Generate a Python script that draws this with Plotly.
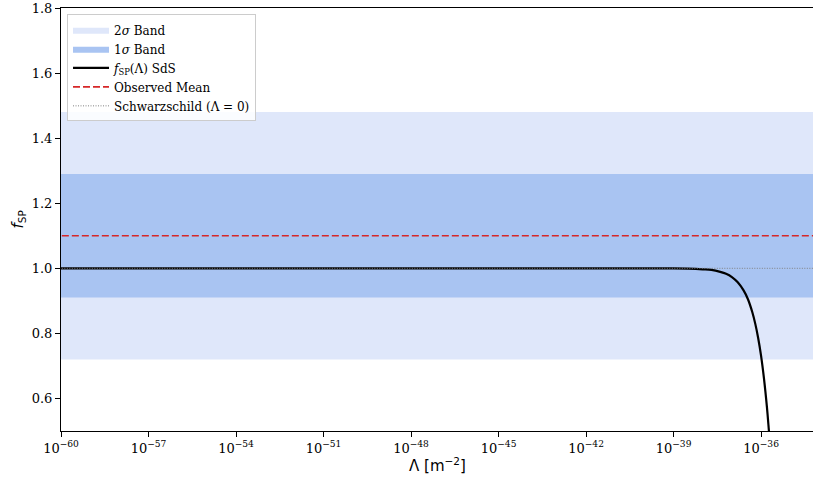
import plotly.graph_objects as go

# ---- data ----
log_lambda = [-60, -50, -42, -40, -39, -38.5, -38, -37.7, -37.4, -37.2, -37.0, -36.8,
              -36.6, -36.45, -36.3, -36.2, -36.1, -36.0, -35.9, -35.8, -35.74, -35.72]
f_sp = [1.0, 1.0, 1.0, 1.0, 1.0, 0.999, 0.997, 0.995, 0.989, 0.983, 0.973, 0.957,
        0.932, 0.905, 0.865, 0.830, 0.786, 0.731, 0.661, 0.574, 0.51, 0.487]
observed_mean = 1.10
sigma = 0.19
schwarzschild = 1.0
x_limits_log = [-60, -34.22]
x_tick_exps = [-60, -57, -54, -51, -48, -45, -42, -39, -36]
y_ticks = [0.6, 0.8, 1.0, 1.2, 1.4, 1.6, 1.8]

lam = [10 ** v for v in log_lambda]
x_lo, x_hi = 10 ** -61, 10 ** -33

FONT = "DejaVu Serif"
fig = go.Figure()


def band(lo, hi, color, name):
    fig.add_trace(go.Scatter(
        x=[x_lo, x_hi, x_hi, x_lo, x_lo], y=[lo, lo, hi, hi, lo],
        fill="toself", fillcolor=color, line=dict(width=0), mode="lines",
        name=name, hoverinfo="skip"))


band(observed_mean - 2 * sigma, observed_mean + 2 * sigma, "rgb(223,231,250)", "2<i>σ</i> Band")
band(observed_mean - sigma, observed_mean + sigma, "rgb(169,196,242)", "1<i>σ</i> Band")

fig.add_trace(go.Scatter(x=lam, y=f_sp, mode="lines", line=dict(color="black", width=2.2),
                         name="<i>f</i><sub>SP</sub>(Λ) SdS", line_shape="spline"))
fig.add_trace(go.Scatter(x=[x_lo, x_hi], y=[observed_mean] * 2, mode="lines",
                         line=dict(color="#d62728", width=1.6, dash="7px,3px"),
                         name="Observed Mean"))
fig.add_trace(go.Scatter(x=[x_lo, x_hi], y=[schwarzschild] * 2, mode="lines",
                         line=dict(color="gray", width=1, dash="1px,1.5px"),
                         name="Schwarzschild (Λ = 0)"))

fig.update_layout(
    width=813, height=480,
    margin=dict(l=61, r=0, t=8, b=49, autoexpand=False),
    plot_bgcolor="white", paper_bgcolor="white",
    font=dict(family=FONT, size=13, color="black"),
    showlegend=True,
    legend=dict(x=0.008, y=0.985, xanchor="left", yanchor="top",
                bgcolor="rgba(255,255,255,0.85)", bordercolor="#cccccc", borderwidth=1,
                font=dict(family=FONT, size=12), tracegroupgap=0, itemwidth=36),
    xaxis=dict(type="log", range=x_limits_log, showgrid=False, zeroline=False,
               showline=True, linecolor="black", linewidth=1, mirror=True,
               ticks="outside", ticklen=5, tickcolor="black", automargin=False,
               tickvals=[10 ** e for e in x_tick_exps],
               ticktext=["10<sup>−%d</sup>" % (-e) for e in x_tick_exps]),
    yaxis=dict(range=[0.5, 1.8], showgrid=False, zeroline=False,
               showline=True, linecolor="black", linewidth=1, mirror=False,
               ticks="outside", ticklen=5, tickcolor="black", automargin=False,
               tickvals=y_ticks, ticktext=["%.1f" % v for v in y_ticks]),
    annotations=[
        dict(text="Λ [m<sup>−2</sup>]", xref="paper", yref="paper", x=0.5, y=0,
             xanchor="center", yanchor="middle", yshift=-34, showarrow=False,
             font=dict(family="DejaVu Sans", size=15)),
        dict(text="<i>f</i><sub>SP</sub>", xref="paper", yref="paper", x=0, y=0.5,
             xanchor="center", yanchor="middle", xshift=-43, showarrow=False, textangle=-90,
             font=dict(family="DejaVu Sans", size=15)),
    ],
)

fig.write_html("out.html", config={"displayModeBar": False},
               post_script="document.body.style.margin='0';document.body.style.overflow='hidden';")
